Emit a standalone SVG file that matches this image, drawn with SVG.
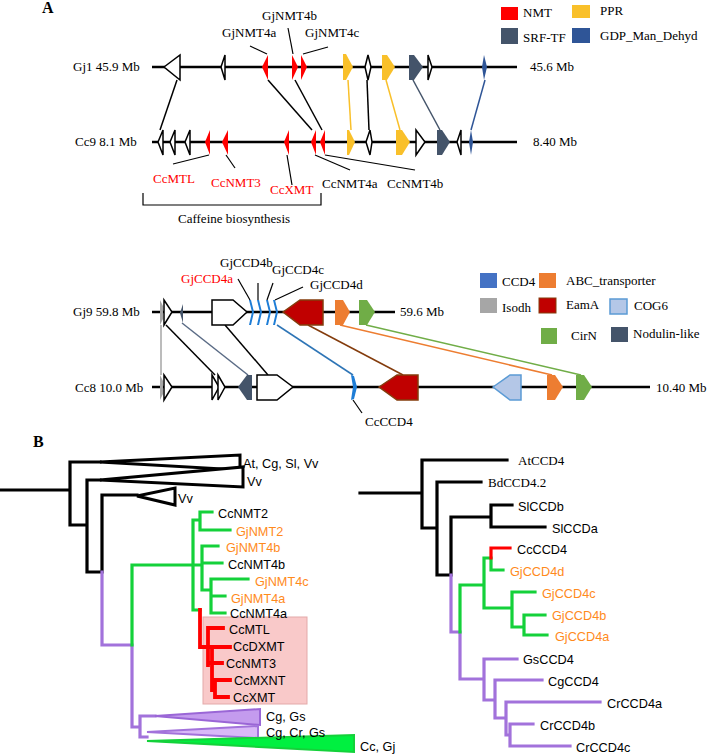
<svg xmlns="http://www.w3.org/2000/svg" width="709" height="755" viewBox="0 0 709 755">
<style>
.serif{font-family:"Liberation Serif","Times New Roman",serif;font-size:13px;fill:#000}
.sans{font-family:"Liberation Sans",Arial,sans-serif;font-size:12.7px;fill:#000}
.red{fill:#FF0000}
.org{fill:#FF8A1C}
.chr{stroke:#000;stroke-width:2.7;fill:none}
.lead{stroke:#000;stroke-width:1.2;fill:none}
.wg{fill:#fff;stroke:#000;stroke-width:1.5}
.nmt{fill:#FF0000}
.ppr{fill:#F9C02A}
.srf{fill:#44546A}
.gdp{fill:#2F5597}
.ccd{fill:#1E7DD6}
.iso{fill:#A6A6A6}
.eam{fill:#C00000;stroke:#843C0C;stroke-width:1.5}
.abc{fill:#ED7D31}
.cir{fill:#70AD47}
.cog{fill:#B4C7E7;stroke:#5B9BD5;stroke-width:1.5}
.con{fill:none;stroke-width:1.5}
.tk{fill:none;stroke:#000;stroke-width:3.2;stroke-linecap:square}
.tg{fill:none;stroke:#14D13A;stroke-width:3.2;stroke-linecap:square}
.tp{fill:none;stroke:#A272DB;stroke-width:3.2;stroke-linecap:square}
.tr{fill:none;stroke:#FF0000;stroke-width:3.8;stroke-linecap:square}
</style>

<text class="serif" x="42" y="13" style="font-weight:bold;font-size:16px">A</text>
<text class="serif" x="33" y="447" style="font-weight:bold;font-size:16px">B</text>

<g id="legend-top">
<rect x="501" y="7" width="17" height="13" class="nmt"/><text class="serif" x="523" y="17">NMT</text>
<rect x="572" y="5" width="18" height="13" class="ppr"/><text class="serif" x="600" y="15">PPR</text>
<rect x="501" y="28" width="17" height="16" class="srf"/><text class="serif" x="523" y="42">SRF-TF</text>
<rect x="572" y="28" width="18" height="15" class="gdp"/><text class="serif" x="600" y="40">GDP_Man_Dehyd</text>
</g>

<g id="connectors">
<line x1="177" y1="80" x2="160" y2="130" class="con" stroke="#000"/>
<line x1="268" y1="80" x2="312" y2="130" class="con" stroke="#000"/>
<line x1="295" y1="80" x2="322" y2="130" class="con" stroke="#000"/>
<line x1="348" y1="80" x2="351" y2="130" class="con" stroke="#F9C02A" stroke-width="2.5"/>
<line x1="367" y1="80" x2="369" y2="130" class="con" stroke="#000"/>
<line x1="386" y1="80" x2="400" y2="130" class="con" stroke="#F9C02A" stroke-width="2.5"/>
<line x1="413" y1="80" x2="440" y2="130" class="con" stroke="#44546A" stroke-width="2"/>
<line x1="485" y1="80" x2="471" y2="130" class="con" stroke="#2F5597" stroke-width="2"/>

<line x1="161" y1="325" x2="161" y2="375" class="con" stroke="#A6A6A6"/>
<line x1="166" y1="325" x2="215" y2="375" class="con" stroke="#000"/>
<line x1="182" y1="323" x2="248" y2="375" class="con" stroke="#5A6B85"/>
<line x1="225" y1="325" x2="268" y2="375" class="con" stroke="#000"/>
<line x1="277" y1="325" x2="353" y2="375" class="con" stroke="#2E75B6"/>
<line x1="308" y1="325" x2="403" y2="375" class="con" stroke="#843C0C"/>
<line x1="340" y1="325" x2="552" y2="375" class="con" stroke="#ED7D31"/>
<line x1="366" y1="325" x2="581" y2="375" class="con" stroke="#70AD47"/>
</g>

<g id="gj1">
<text class="serif" x="73" y="71">Gj1 45.9 Mb</text>
<line x1="152" y1="67" x2="517" y2="67" class="chr"/>
<polygon class="wg" points="164,67 180,55 180,80"/>
<polygon class="wg" points="221,67 225,55 225,80"/>
<polygon class="nmt" points="262,67 268,55 268,80"/>
<polygon class="nmt" points="292,55 298,67 292,80"/>
<polygon class="nmt" points="301,55 307,67 301,80"/>
<polygon class="ppr" points="343,54 346,54 353,67 346,80 343,80"/>
<polygon class="wg" points="365,67 368,55 371,67 368,80"/>
<polygon class="ppr" points="382,55 387,55 395,67 387,80 382,80"/>
<polygon class="srf" points="409,55 414,55 423,67 414,80 409,80"/>
<polygon class="wg" points="428,55 432,67 428,80"/>
<polygon class="gdp" points="484,55 487,67 484,80 482,67"/>
<text class="serif" x="530" y="71">45.6 Mb</text>
<text class="serif" x="222" y="37">GjNMT4a</text>
<text class="serif" x="262" y="20">GjNMT4b</text>
<text class="serif" x="305" y="37">GjNMT4c</text>
<line x1="250" y1="46" x2="267" y2="54" class="lead"/>
<line x1="288" y1="28" x2="293" y2="54" class="lead"/>
<line x1="328" y1="47" x2="303" y2="54" class="lead"/>
</g>

<g id="cc9">
<text class="serif" x="75" y="146">Cc9 8.1 Mb</text>
<line x1="152" y1="142" x2="517" y2="142" class="chr"/>
<polygon class="wg" points="158,142 163,130 163,155"/>
<polygon class="wg" points="170,142 175,130 175,155"/>
<polygon class="wg" points="185,142 190,130 190,155"/>
<polygon class="nmt" points="205,142 210,130 210,155"/>
<polygon class="nmt" points="222,142 228,130 228,155"/>
<polygon class="nmt" points="284,142 289,130 289,155"/>
<polygon class="nmt" points="311,142 316,130 316,155"/>
<polygon class="nmt" points="320,142 325,130 325,155"/>
<polygon class="ppr" points="347,130 349,130 355,142 349,155 347,155"/>
<polygon class="wg" points="366,142 370,130 372,142 370,155"/>
<polygon class="ppr" points="396,130 402,130 410,142 402,155 396,155"/>
<polygon class="wg" points="416,130 425,142 416,155"/>
<polygon class="srf" points="437,130 442,130 450,142 442,155 437,155"/>
<polygon class="wg" points="457,142 461,130 461,155"/>
<polygon class="gdp" points="471,130 473,142 471,155 469,142"/>
<text class="serif" x="533" y="146">8.40 Mb</text>
<text class="serif red" x="153" y="183">CcMTL</text>
<text class="serif red" x="211" y="187">CcNMT3</text>
<text class="serif red" x="270" y="194">CcXMT</text>
<text class="serif" x="322" y="188">CcNMT4a</text>
<text class="serif" x="387" y="188">CcNMT4b</text>
<line x1="173" y1="164" x2="209" y2="155" class="lead"/>
<line x1="235" y1="168" x2="226" y2="155" class="lead"/>
<line x1="292" y1="185" x2="287" y2="155" class="lead"/>
<line x1="350" y1="170" x2="315" y2="155" class="lead"/>
<line x1="415" y1="170" x2="325" y2="155" class="lead"/>
<path d="M143,193 V205 H321 V193" class="lead" stroke-width="1.5"/>
<text class="serif" x="178" y="223">Caffeine biosynthesis</text>
</g>

<g id="legend-bottom">
<rect x="480" y="273" width="17" height="15" fill="#4472C4"/><text class="serif" x="502" y="286">CCD4</text>
<rect x="539" y="273" width="17" height="15" class="abc"/><text class="serif" x="566" y="285">ABC_transporter</text>
<rect x="480" y="298" width="17" height="15" class="iso"/><text class="serif" x="502" y="312">Isodh</text>
<rect x="539" y="298" width="17" height="15" fill="#C00000" stroke="#843C0C"/><text class="serif" x="566" y="309">EamA</text>
<rect x="610" y="299" width="17" height="15" class="cog"/><text class="serif" x="634" y="310">COG6</text>
<rect x="541" y="328" width="16" height="16" class="cir"/><text class="serif" x="571" y="340">CirN</text>
<rect x="611" y="327" width="17" height="15" class="srf"/><text class="serif" x="633" y="338">Nodulin-like</text>
</g>

<g id="gj9">
<text class="serif" x="73" y="316">Gj9 59.8 Mb</text>
<line x1="152" y1="312" x2="395" y2="312" class="chr"/>
<polygon class="iso" points="160,300 163,306 163,319 160,325"/>
<polygon class="wg" points="164,300 172,312 164,325"/>
<polygon class="srf" points="180,313 183,304 183,323"/>
<polygon class="wg" points="212,300 233,300 247,312 233,325 212,325"/>
<polygon class="ccd" points="249,300 251,300 254,312 251,325 249,325 252,312"/>
<polygon class="ccd" points="257,300 259,300 262,312 259,325 257,325 260,312"/>
<polygon class="ccd" points="266,300 268,300 271,312 268,325 266,325 269,312"/>
<polygon class="ccd" points="273,300 275,300 278,312 275,325 273,325 276,312"/>
<polygon class="eam" points="283,312 300,300 323,300 323,325 300,325"/>
<polygon class="abc" points="335,300 343,300 350,312 343,325 335,325"/>
<polygon class="cir" points="359,300 367,300 375,312 367,325 359,325"/>
<text class="serif" x="400" y="316">59.6 Mb</text>
<text class="serif red" x="181" y="283">GjCCD4a</text>
<text class="serif" x="220" y="267">GjCCD4b</text>
<text class="serif" x="272" y="274">GjCCD4c</text>
<text class="serif" x="310" y="289">GjCCD4d</text>
<line x1="238" y1="279" x2="250" y2="300" class="lead"/>
<line x1="258" y1="283" x2="258" y2="300" class="lead"/>
<line x1="273" y1="283" x2="267" y2="300" class="lead"/>
<line x1="303" y1="287" x2="275" y2="300" class="lead"/>
</g>

<g id="cc8">
<text class="serif" x="75" y="392">Cc8 10.0 Mb</text>
<line x1="152" y1="387" x2="650" y2="387" class="chr"/>
<polygon class="iso" points="160,375 163,381 163,394 160,400"/>
<polygon class="wg" points="164,375 172,387 164,400"/>
<polygon class="wg" points="212,375 219,387 212,400"/>
<polygon class="wg" points="218,375 225,387 218,400"/>
<polygon class="srf" points="238,387 247,375 252,375 252,400 247,400"/>
<polygon class="wg" points="257,375 277,375 293,387 277,400 257,400"/>
<polygon class="ccd" points="351,375 354,376 357,387 354,399 351,400 353,387"/>
<polygon class="eam" points="379,387 397,375 418,375 418,400 397,400"/>
<polygon class="cog" points="493,387 510,375 521,375 521,400 510,400"/>
<polygon class="abc" points="547,375 555,375 563,387 555,400 547,400"/>
<polygon class="cir" points="576,375 584,375 592,387 584,400 576,400"/>
<text class="serif" x="656" y="392">10.40 Mb</text>
<text class="serif" x="365" y="426">CcCCD4</text>
<line x1="353" y1="400" x2="362" y2="413" class="lead"/>
</g>

<g id="tree-nmt">
<path class="tk" d="M0,490 H70 M70,462 V525 H87 M87,480 V572 H102 M102,495 V572 M70,462 H100 M87,480 H100 M102,495 H137"/>
<polygon points="100,462 240,455 240,470" fill="#fff" stroke="#000" stroke-width="3" stroke-linejoin="miter"/>
<polygon points="100,480 243,467 243,487" fill="#fff" stroke="#000" stroke-width="3"/>
<polygon points="137,496 175,488 175,505" fill="#fff" stroke="#000" stroke-width="3"/>
<text class="sans" x="243" y="468">At, Cg, Sl, Vv</text>
<text class="sans" x="247" y="486">Vv</text>
<text class="sans" x="178" y="503">Vv</text>
<rect x="203" y="617" width="104" height="87" fill="#F9C9C9" stroke="#E3A9A9" stroke-width="1"/>
<path class="tp" d="M102,572 V645 H132 V727 H140 M140,716 V737 M140,716 H155 M140,737 H147"/>
<path class="tg" d="M132,645 V565 H193 M193,520 V610 H200 M193,520 H200 M200,512 V530 M200,512 H212 M200,530 H230 M193,565 H202 M202,546 V590 M202,546 H218 M202,563 H222 M202,590 H211 M211,579 V613 M211,579 H248 M211,596 H225 M211,613 H225"/>
<path class="tr" d="M200,610 V647 H230 M208,628 V665 M208,628 H223 M208,663 H222 M212,647 V690 M215,680 V697 M215,680 H230 M215,697 H228"/>
<polygon points="155,716 260,709 260,725" fill="#C49BEE" stroke="#9A66D6" stroke-width="2"/>
<polygon points="147,732 258,726 258,738" fill="#D9B8F7" stroke="#A272DB" stroke-width="2"/>
<polygon points="147,741 354,735 354,752" fill="#00F040" stroke="#14D13A" stroke-width="2"/>
<text class="sans" x="218" y="518">CcNMT2</text>
<text class="sans org" x="236" y="536">GjNMT2</text>
<text class="sans org" x="226" y="552">GjNMT4b</text>
<text class="sans" x="228" y="569">CcNMT4b</text>
<text class="sans org" x="255" y="586">GjNMT4c</text>
<text class="sans org" x="231" y="603">GjNMT4a</text>
<text class="sans" x="230" y="618">CcNMT4a</text>
<text class="sans" x="229" y="634">CcMTL</text>
<text class="sans" x="233" y="651">CcDXMT</text>
<text class="sans" x="226" y="668">CcNMT3</text>
<text class="sans" x="234" y="685">CcMXNT</text>
<text class="sans" x="233" y="702">CcXMT</text>
<text class="sans" x="266" y="721">Cg, Gs</text>
<text class="sans" x="266" y="737">Cg, Cr, Gs</text>
<text class="sans" x="360" y="751">Cc, Gj</text>
</g>

<g id="tree-ccd4">
<path class="tk" d="M360,493 H422 M422,460 V528 H437 M422,460 H507 M437,482 V575 H451 M437,482 H481 M451,517 V575 M451,517 H491 M491,505 V527 M491,505 H512 M491,527 H545"/>
<path class="tp" d="M451,575 V632 H460 M460,632 V679 H484 M484,659 V700 M484,659 H517 M484,700 H495 M495,680 V718 M495,680 H542 M495,718 H506 M506,702 V735 M506,702 H600 M506,735 H510 M510,724 V746 M510,724 H533 M510,746 H570"/>
<path class="tg" d="M460,632 V585 H484 M484,558 V608 M484,558 H491 M491,558 V570 H503 M484,608 H512 M512,592 V627 M512,592 H535 M512,627 H524 M524,615 V635 M524,615 H545 M524,635 H547"/>
<path class="tr" d="M491,558 V548 H510" style="stroke-width:3.2"/>
<text class="serif" x="518" y="465">AtCCD4</text>
<text class="serif" x="488" y="487">BdCCD4.2</text>
<text class="sans" x="518" y="511">SlCCDb</text>
<text class="sans" x="552" y="533">SlCCDa</text>
<text class="sans" x="517" y="554">CcCCD4</text>
<text class="sans org" x="510" y="576">GjCCD4d</text>
<text class="sans org" x="542" y="598">GjCCD4c</text>
<text class="sans org" x="552" y="620">GjCCD4b</text>
<text class="sans org" x="555" y="641">GjCCD4a</text>
<text class="sans" x="523" y="664">GsCCD4</text>
<text class="sans" x="548" y="686">CgCCD4</text>
<text class="sans" x="607" y="708">CrCCD4a</text>
<text class="sans" x="540" y="730">CrCCD4b</text>
<text class="sans" x="576" y="752">CrCCD4c</text>
</g>
</svg>
